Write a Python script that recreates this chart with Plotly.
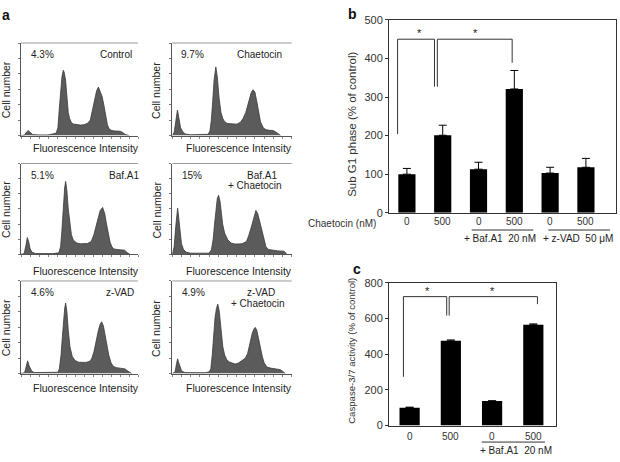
import plotly.graph_objects as go

W, H = 620, 462
FONT = "Liberation Sans, Arial, sans-serif"

# ---------------- Panel a: DNA content histograms (channel, cell count) ----------------
ctrl_x = [0,4,6,8,10,13,20,30,39,41,42.5,44,45.5,47,48,49.5,51,52.5,54,56,58,62,66,70,74,77,80,82,84,86,88,90,92,94,96,98,101,104,107,110,113,116,120]
ctrl_y = [0,0.3,2.2,3.2,2.2,0.6,0.4,0.4,1.5,5,17,30,38,42.3,41,36,22,15,11,8.5,7.5,7,6.8,7,8,10,19,25,29,31.4,29,25.5,20,13,7,4.2,3.2,3,3.1,2.8,2,0.6,0]

chae_x = [0,2,4,5.6,7,9,11.5,14,20,30,39,41,42.5,44,45.5,47.4,49,51,53,55,57,60,65,70,74,77,80,82,84,86,88,90,92,94,96,99,102,106,110,113,116,118]
chae_y = [0,2,10,16.5,12,5,2.5,1,0.5,0.5,0.8,3,10,22,36,44.5,38,24,15,11,9,7.8,7.4,7.4,8.5,11,15,19,24,28,29.7,28,22,15,9,5,3.8,3.4,3.2,2.2,0.8,0]

baf_x = [0,3.5,5.5,7,8.5,10,12,16,25,35,42,44,45.5,47,48.5,49.6,51,52.5,54.4,56,58,62,66,70,74,78,81,84,86,88,90.7,93,95,97,99,101,103,107,111,115,118,121]
baf_y = [0,0.5,6,11.1,8.5,4,1.5,0.6,0.5,0.5,1,5,16,32,44,48.2,42,30,20,13,9.5,7.5,7,7,7.2,8.5,13,20,25,29,31,27,20,13.9,8,5,3.6,3.2,3,2.8,1.2,0]

bafc_x = [0,2,4,5.8,7,8.5,10,12.2,15,20,30,40,42.6,44.5,46,47.5,49,50.4,52,53.5,54.8,57,60.4,64,68,72,76,80.7,83,86,88,90,91,93,95,97.4,100,102,104.8,110,115,121.5,125]
bafc_y = [0,5,20,30.5,24,13.9,7,3.2,1.5,0.8,0.7,0.8,3,10,20,30,37,39,35,27,20,14,9.6,7.5,6.9,6.9,7,8.5,12,18,23,27.5,29,27,22,16,9,5,3.2,2.6,2.3,2.1,0]

zvad_x = [0,4,6,7.4,9,11.9,15,25,35,41,42.6,44.5,46,47.5,48.5,49.6,51,52.5,54.4,57,60,64,68,72,76,78.5,81,84,86,88,89.6,91.5,93,95.2,97.5,100,102.6,106,110,113,115.5,119,123]
zvad_y = [0,0.5,5,8.2,5,1.5,0.6,0.5,0.5,0.8,3,12,24,36,42,45.7,40,28,17.3,11,8.4,7.3,7.2,7.2,7.8,9.5,14,23.6,28,32,33.5,31,26,19.4,12,7,4.6,3.8,3.4,3.2,3,1.5,0]

zvadc_x = [0,3,4.5,5.8,7,8.5,10.2,14,25,35,40,41.9,43.5,45,46.5,48,49.5,51,53,55,57,59.4,62,65,68.5,72,76,79.4,82,84.9,87,89,90.3,92,94,95.8,98,100,103,107,112,117.7,121,123]
zvadc_y = [0,1,6,9.5,7,3.5,1.5,0.6,0.5,0.5,1,3,12,25,36,42,45,41,28,17.3,12,8.8,7.5,6.6,6.1,6.8,8.2,9.9,13,21.5,26,29,29.9,28,22,17.3,11,7,4.2,3.5,3,2.5,1,0]

hist_pcts = ["4.3%", "9.7%", "5.1%", "15%", "4.6%", "4.9%"]
hist_titles = [["Control"], ["Chaetocin"], ["Baf.A1"], ["Baf.A1", "+ Chaetocin"],
               ["z-VAD"], ["z-VAD", "+ Chaetocin"]]

# ---------------- Panel b: Sub G1 phase ----------------
b_labels = ["0", "500", "0", "500", "0", "500"]
b_values = [100, 201, 113, 321, 103, 118]
b_errors = [15, 26, 18, 48, 15, 23]

# ---------------- Panel c: Caspase-3/7 activity ----------------
c_labels = ["0", "500", "0", "500"]
c_values = [100, 475, 137, 565]
c_errors = [3, 5, 2, 5]

hists = [(ctrl_x, ctrl_y), (chae_x, chae_y), (baf_x, baf_y),
         (bafc_x, bafc_y), (zvad_x, zvad_y), (zvadc_x, zvadc_y)]
for hx, hy in hists:
    assert len(hx) == len(hy), (len(hx), len(hy))


def px(x):
    return x / W


def py(y):
    return 1 - y / H


fig = go.Figure()
layout = dict(width=W, height=H, margin=dict(l=0, r=0, t=0, b=0),
              paper_bgcolor="white", plot_bgcolor="white", showlegend=False,
              font=dict(family=FONT, color="#222"))
annotations = []
shapes = []


def ann(x, y, text, size=10, xref="paper", yref="paper", xanchor="center",
        yanchor="middle", angle=0, bold=False, color="#222"):
    if bold:
        text = "<b>%s</b>" % text
    annotations.append(dict(x=x, y=y, xref=xref, yref=yref, text=text,
                            showarrow=False, xanchor=xanchor, yanchor=yanchor,
                            textangle=angle, font=dict(size=size, color=color, family=FONT)))


cols = [(21, 138), (172.3, 291.7)]
rows = [(38, 133), (161.7, 255), (282.3, 377.3)]
fi_y = [146, 272, 392]
title_pos = [
    [(94.5, 12)], [(87.2, 12)], [(103, 12.3)], [(89.7, 12.3), (82.2, 22.3)],
    [(98.5, 11.7)], [(88.7, 11.7), (85.2, 23.4)],
]
pct_off = [(21, 12), (20, 12), (21, 12.3), (20, 12.3), (21, 11.7), (21, 11.7)]

for i, (hx, hy) in enumerate(hists):
    r, c = divmod(i, 2)
    n = i + 1
    xa = "xaxis" if n == 1 else "xaxis%d" % n
    ya = "yaxis" if n == 1 else "yaxis%d" % n
    xr = "x" if n == 1 else "x%d" % n
    yr = "y" if n == 1 else "y%d" % n
    x0, x1 = cols[c]
    t0, t1 = rows[r]
    fig.add_trace(go.Scatter(x=hx, y=hy, mode="lines", fill="tozeroy",
                             fillcolor="#5b5b5b", line=dict(color="#3a3a3a", width=0.8),
                             xaxis=xr, yaxis=yr, hoverinfo="skip"))
    layout[xa] = dict(domain=[px(x0), px(x1)], anchor=yr, range=[0, 130],
                      showgrid=False, zeroline=False, showline=True, linecolor="#555",
                      linewidth=1, ticks="outside", ticklen=2, tickwidth=1, tickcolor="#888",
                      dtick=10, showticklabels=False)
    layout[ya] = dict(domain=[py(t1), py(t0)], anchor=xr, range=[0, 60],
                      showgrid=False, zeroline=False, showline=True, linecolor="#555",
                      linewidth=1, ticks="outside", ticklen=2, tickwidth=1, tickcolor="#777",
                      dtick=10, showticklabels=False)
    # top border line (gray)
    shapes.append(dict(type="line", xref=xr + " domain", yref=yr + " domain",
                       x0=0, x1=1, y0=1, y1=1, line=dict(color="#9a9a9a", width=1)))
    # percent + treatment labels
    ann(px(x0 + pct_off[i][0]), py(t0 + pct_off[i][1]), hist_pcts[i], size=10)
    for line_txt, (dx, dy) in zip(hist_titles[i], title_pos[i]):
        ann(px(x0 + dx), py(t0 + dy), line_txt, size=10)
    ann(px((x0 + x1) / 2 + 6.5), py(fi_y[r]), "Fluorescence Intensity", size=10.5)
    ann(px(6 if c == 0 else 156.7), py((t0 + t1) / 2 + 1), "Cell number", size=10.5, angle=-90)

ann(px(6), py(9), "a", size=14, bold=True, color="#111")

# ---------------- Panel b ----------------
bx = list(range(len(b_values)))
fig.add_trace(go.Bar(x=bx, y=b_values, width=0.48, marker=dict(color="black", line=dict(width=0)),
                     error_y=dict(type="data", symmetric=False, array=b_errors,
                                  arrayminus=[0] * len(b_errors), color="black",
                                  thickness=1, width=4),
                     xaxis="x7", yaxis="y7", hoverinfo="skip"))
layout["xaxis7"] = dict(domain=[px(389), px(616)], anchor="y7", range=[-0.5, 5.84],
                        showgrid=False, zeroline=False, showline=True, mirror=True,
                        linecolor="#333", linewidth=1, ticks="", showticklabels=False)
layout["yaxis7"] = dict(domain=[py(212.3), py(14.3)], anchor="x7", range=[0, 500], dtick=100,
                        showgrid=False, zeroline=False, showline=True, mirror=True,
                        linecolor="#333", linewidth=1, ticks="outside", ticklen=3,
                        tickcolor="#333", tickfont=dict(size=11, color="#333", family=FONT))
ann(px(352), py(122), "Sub G1 phase (% of control)", size=11.5, angle=-90, color="#333")
ann(px(352), py(8), "b", size=14, bold=True, color="#111")
for i, lab in enumerate(b_labels):
    ann(i, py(221), lab, size=10, xref="x7", color="#333")
ann(px(378), py(223), "Chaetocin (nM)", size=10, xanchor="right", color="#333")
shapes.append(dict(type="line", xref="paper", yref="paper", x0=px(471.7), x1=px(533.3),
                   y0=py(230), y1=py(230), line=dict(color="#333", width=1)))
shapes.append(dict(type="line", xref="paper", yref="paper", x0=px(548.3), x1=px(610),
                   y0=py(230), y1=py(230), line=dict(color="#333", width=1)))
ann(px(499.5), py(239), "+ Baf.A1\u00a0\u00a020 nM", size=10, color="#222")
ann(px(578), py(239), "+ z-VAD\u00a0\u00a050 \u03bcM", size=10, color="#222")

# significance brackets (b)
b_top = 450
shapes.append(dict(type="path", xref="x7", yref="y7",
                   path="M -0.26,204 L -0.26,%d L 0.77,%d L 0.77,327" % (b_top, b_top),
                   line=dict(color="#333", width=1)))
shapes.append(dict(type="path", xref="x7", yref="y7",
                   path="M 0.85,327 L 0.85,%d L 2.94,%d L 2.94,389" % (b_top, b_top),
                   line=dict(color="#333", width=1)))
annotations.append(dict(x=0.34, y=b_top, xref="x7", yref="y7", text="*", showarrow=False,
                        yanchor="bottom", yshift=-2, font=dict(size=11, color="#222", family=FONT)))
annotations.append(dict(x=1.91, y=b_top, xref="x7", yref="y7", text="*", showarrow=False,
                        yanchor="bottom", yshift=-2, font=dict(size=11, color="#222", family=FONT)))

# ---------------- Panel c ----------------
cx = list(range(len(c_values)))
fig.add_trace(go.Bar(x=cx, y=c_values, width=0.49, marker=dict(color="black", line=dict(width=0)),
                     error_y=dict(type="data", symmetric=False, array=c_errors,
                                  arrayminus=[0] * len(c_errors), color="black",
                                  thickness=1, width=4),
                     xaxis="x8", yaxis="y8", hoverinfo="skip"))
layout["xaxis8"] = dict(domain=[px(389), px(556)], anchor="y8", range=[-0.5, 3.55],
                        showgrid=False, zeroline=False, showline=True, mirror=True,
                        linecolor="#333", linewidth=1, ticks="", showticklabels=False)
layout["yaxis8"] = dict(domain=[py(430.7), py(284.3)], anchor="x8", range=[0, 800], dtick=200,
                        showgrid=False, zeroline=False, showline=True, mirror=True,
                        linecolor="#333", linewidth=1, ticks="outside", ticklen=3,
                        tickcolor="#333", tickfont=dict(size=11, color="#333", family=FONT))
ann(px(352), py(354), "Caspase-3/7 activity (% of control)", size=9.6, angle=-90, color="#333")
ann(px(357), py(270), "c", size=14, bold=True, color="#111")
for i, lab in enumerate(c_labels):
    ann(i, py(442), lab, size=10, xref="x8", color="#333")
shapes.append(dict(type="line", xref="paper", yref="paper", x0=px(481.7), x1=px(545),
                   y0=py(447.7), y1=py(447.7), line=dict(color="#333", width=1)))
ann(px(515.5), py(456), "+ Baf.A1\u00a0\u00a020 nM", size=10, color="#222")

c_top = 723
shapes.append(dict(type="path", xref="x8", yref="y8",
                   path="M -0.15,273 L -0.15,%d L 0.9,%d L 0.9,617" % (c_top, c_top),
                   line=dict(color="#333", width=1)))
shapes.append(dict(type="path", xref="x8", yref="y8",
                   path="M 0.96,617 L 0.96,%d L 3.1,%d L 3.1,681" % (c_top, c_top),
                   line=dict(color="#333", width=1)))
annotations.append(dict(x=0.43, y=c_top, xref="x8", yref="y8", text="*", showarrow=False,
                        yanchor="bottom", yshift=-2, font=dict(size=11, color="#222", family=FONT)))
annotations.append(dict(x=2.02, y=c_top, xref="x8", yref="y8", text="*", showarrow=False,
                        yanchor="bottom", yshift=-2, font=dict(size=11, color="#222", family=FONT)))

layout["annotations"] = annotations
layout["shapes"] = shapes
fig.update_layout(**layout)
fig.write_html("out.html", config={"displayModeBar": False, "staticPlot": True},
               post_script="document.body.style.margin='0px';document.body.style.overflow='hidden';")
